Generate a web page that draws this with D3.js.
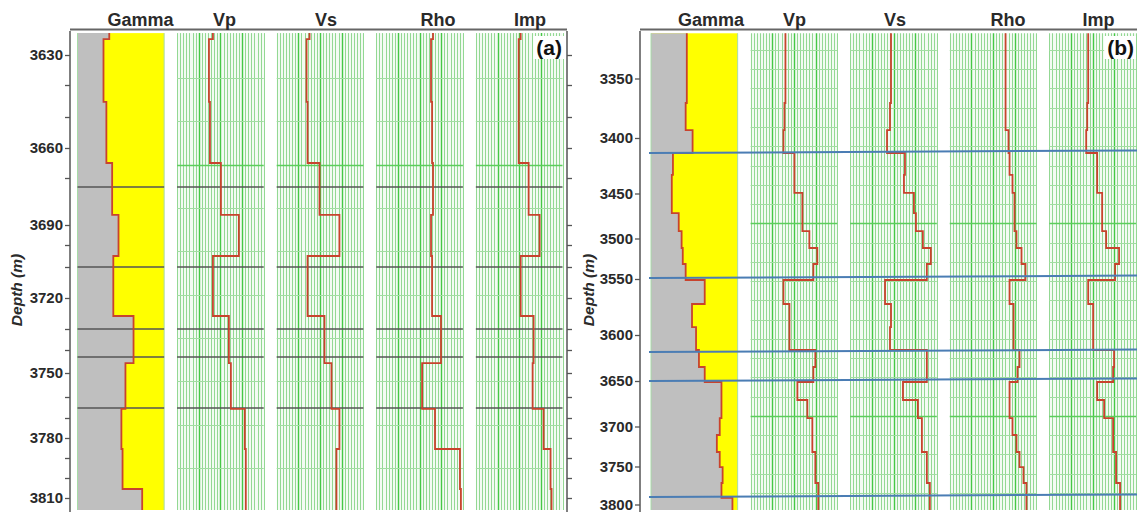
<!DOCTYPE html>
<html><head><meta charset="utf-8">
<script src="https://cdn.jsdelivr.net/npm/d3@7"></script>
<style>
html,body{margin:0;padding:0;background:#fff;}
svg{display:block;font-family:"Liberation Sans",Arial,sans-serif;}
</style></head><body>
<svg id="chart" width="1137" height="512"></svg>
<script>
// ================= DATA =================
const tracks = ["Gamma", "Vp", "Vs", "Rho", "Imp"];
const trackDomains = { Gamma: [0, 150], Vp: [2000, 6000], Vs: [1000, 4000], Rho: [2.0, 3.0], Imp: [5000, 20000] };

// ---- Panel (a) ----
const depthTicksA = [3630, 3660, 3690, 3720, 3750, 3780, 3810];
const minorTicksA = [3640, 3650, 3670, 3700, 3710, 3730, 3740, 3760, 3770, 3790, 3800];
const layerTopsA = [3622.7, 3624.7, 3645.3, 3665, 3685.7, 3705, 3725.8, 3745.7, 3765.7, 3785.5, 3805.5];
const baseA = 3816;
const gammaA = [55, 45, 50, 60, 71, 62, 97, 83, 76, 78, 112];
const vpA = [3655, 3471, 3517, 4023, 4851, 3655, 4391, 4483, 5126, 5172, 5172];
const vsA = [2138, 2034, 2069, 2483, 3172, 2069, 2655, 2897, 3172, 3069, 3069];
const rhoA = [2.655, 2.632, 2.644, 2.655, 2.632, 2.644, 2.747, 2.529, 2.678, 2.966, 2.977];
const impA = [12759, 12414, 12414, 14138, 16034, 12759, 15000, 14828, 16724, 17931, 18103];
const markersA = [3673.8, 3710, 3730, 3743, 3765.2];

// ---- Panel (b) ----
const depthTicksB = [3350, 3400, 3450, 3500, 3550, 3600, 3650, 3700, 3750, 3800];
const minorTicksB = [];
const layerTopsB = [3312, 3370.6, 3393.3, 3413.5, 3433.3, 3449.5, 3471.7, 3491.7, 3511.7, 3531.5, 3550.9, 3572.3,
                    3592.9, 3616.3, 3634.8, 3651.1, 3670.9, 3690.7, 3710.6, 3731.9, 3750.7, 3771.7, 3791.4];
const baseB = 3807.2;
const gammaB = [62, 60, 72, 38, 36, 36, 48, 53, 55, 60, 93, 71, 78, 83, 93, 122, 122, 119, 114, 119, 124, 122, 141];
const vpB = [3609, 3563, 3517, 4023, 4023, 4391, 4391, 4713, 5080, 4897, 3517, 3793, 3793, 4989, 4897, 4161,
             4621, 4851, 4851, 4989, 4989, 5126, 5126];
const vsB = [2414, 2379, 2276, 2897, 2862, 3207, 3276, 3517, 3793, 3655, 2207, 2414, 2379, 3655, 3655, 2828,
             3345, 3483, 3483, 3655, 3655, 3759, 3759];
const rhoB = [2.644, 2.644, 2.678, 2.690, 2.724, 2.747, 2.747, 2.770, 2.828, 2.874, 2.690, 2.736, 2.736, 2.805,
              2.782, 2.690, 2.690, 2.724, 2.770, 2.805, 2.851, 2.885, 2.885];
const impB = [11724, 11552, 11379, 13276, 13276, 14138, 14138, 14828, 17069, 16379, 11724, 12586, 12586, 16207,
              16034, 13276, 14483, 16034, 16034, 16552, 16552, 17241, 17241];
const horizonsB = [3413.5, 3548.8, 3618.5, 3650, 3790.1];

// ================= LAYOUT / STYLE =================
const layout = {
  a: { axisX: 70, rightAxisX: 567, header: [70, 567], trackRange: [77.5, 562.5],
       knotPx: [55, 85, 117, 148, 178, 225, 245, 267, 298, 329, 350, 373, 397, 418, 438, 458, 478, 498],
       labelDx: [19.7, 4.1, 6, 18.4, 10.8], tag: "(a)", tagX: 562, depthLabelX: 17,
       grid: { start: 34.7, step: 43.33, brightMod: 3 } },
  b: { axisX: 640, rightAxisX: null, header: [640, 1137], trackRange: [651, 1136],
       knotPx: [78.5, 138, 193.5, 238.5, 279, 335, 381, 426.5, 466.5, 504.5],
       labelDx: [16.7, 0.6, 1.5, 14.9, 5.8], tag: "(b)", tagX: 1134, depthLabelX: 589,
       grid: { start: 30.7, step: 19.26, brightMod: 0 }, horizonX: [649, 1137], tilt: 2.5 }
};
const C = {
  axis: "#555", text: "#2a2a2a", header: "#666",
  gray: "#bfbfbf", yellow: "#ffff00", curve: "#c8432d", trackBg: "#f3fbf3",
  minorV: "#93d893", majorV: "#45c845", minorH: "#a2dda2", majorH: "#5ccd5c",
  marker: "#555", horizon: "#4b7db4", border: "#a8dca8"
};

const panels = [
  { key: "a", majors: depthTicksA, minors: minorTicksA, tops: layerTopsA, base: baseA,
    logs: { Gamma: gammaA, Vp: vpA, Vs: vsA, Rho: rhoA, Imp: impA }, markers: markersA, horizons: [] },
  { key: "b", majors: depthTicksB, minors: minorTicksB, tops: layerTopsB, base: baseB,
    logs: { Gamma: gammaB, Vp: vpB, Vs: vsB, Rho: rhoB, Imp: impB }, markers: [], horizons: horizonsB }
];

const svg = d3.select("#chart");

panels.forEach(P => {
  const L = layout[P.key];
  const knots = [...P.majors, ...P.minors].sort((a, b) => a - b);
  const y = d3.scaleLinear().domain(knots).range(L.knotPx);
  const xb = d3.scaleBand().domain(tracks).range(L.trackRange).paddingInner(0.13).paddingOuter(0);
  const bw = xb.bandwidth();
  const g = svg.append("g");
  const yTop = y(P.tops[0]), yBot = y(P.base);

  // header line & labels
  g.append("line").attr("x1", L.header[0]).attr("x2", L.header[1]).attr("y1", 29.5).attr("y2", 29.5)
    .attr("stroke", C.header).attr("stroke-width", 2);
  g.selectAll("text.hdr").data(tracks).join("text").attr("class", "hdr")
    .attr("x", (t, i) => xb(t) + bw / 2 + L.labelDx[i]).attr("y", 26)
    .attr("text-anchor", "middle").attr("font-size", 18).attr("font-weight", "bold")
    .attr("fill", C.text).text(t => t);

  tracks.forEach(t => {
    const x0 = xb(t), x1 = x0 + bw;
    const xs = d3.scaleLinear().domain(trackDomains[t]).range([x0, x1]);
    const vals = P.logs[t];
    const pts = [];
    P.tops.forEach((top, i) => {
      const bot = i < P.tops.length - 1 ? P.tops[i + 1] : P.base;
      pts.push([vals[i], top], [vals[i], bot]);
    });
    const tg = g.append("g");
    if (t === "Gamma") {
      tg.append("rect").attr("x", x0).attr("y", yTop).attr("width", bw).attr("height", yBot - yTop).attr("fill", C.yellow);
      tg.append("path").datum(pts).attr("fill", C.gray)
        .attr("d", d3.area().y(d => y(d[1])).x0(x0).x1(d => xs(d[0])));
      [x0, x1].forEach(xx => tg.append("line").attr("x1", xx).attr("x2", xx).attr("y1", yTop).attr("y2", yBot)
        .attr("stroke", C.border).attr("stroke-width", 1));
    } else {
      tg.append("rect").attr("x", x0).attr("y", yTop).attr("width", bw).attr("height", yBot - yTop).attr("fill", C.trackBg);
      const d0 = trackDomains[t][0], d1 = trackDomains[t][1];
      const vlines = d3.range(29).map(i => ({ v: d0 + i * (d1 - d0) / 28, major: i % 7 === 0 && i > 0 && i < 28 }));
      tg.selectAll("line.v").data(vlines).join("line").attr("class", "v")
        .attr("x1", d => Math.round(xs(d.v)) + 0.5).attr("x2", d => Math.round(xs(d.v)) + 0.5)
        .attr("y1", yTop).attr("y2", yBot)
        .attr("stroke", d => d.major ? C.majorV : C.minorV).attr("stroke-width", d => d.major ? 1.4 : 1);
      const hl = [];
      for (let k = 1; L.grid.start + k * L.grid.step < yBot - 1; k++) hl.push({ y: L.grid.start + k * L.grid.step, major: k % 10 === L.grid.brightMod });
      tg.selectAll("line.h").data(hl).join("line").attr("class", "h")
        .attr("x1", x0).attr("x2", x1).attr("y1", d => Math.round(d.y) + 0.5).attr("y2", d => Math.round(d.y) + 0.5)
        .attr("stroke", d => d.major ? C.majorH : C.minorH).attr("stroke-width", d => d.major ? 1.4 : 1);
    }
    // markers (panel a)
    tg.selectAll("line.m").data(P.markers).join("line").attr("class", "m")
      .attr("x1", x0).attr("x2", x1).attr("y1", d => y(d)).attr("y2", d => y(d))
      .attr("stroke", C.marker).attr("stroke-width", 1.5);
    tg.append("path").datum(pts).attr("fill", "none").attr("stroke", C.curve).attr("stroke-width", 1.8)
      .attr("d", d3.line().x(d => xs(d[0])).y(d => y(d[1])));
  });

  // horizons (panel b)
  if (P.horizons.length) {
    g.selectAll("line.hz").data(P.horizons).join("line").attr("class", "hz")
      .attr("x1", L.horizonX[0]).attr("x2", L.horizonX[1])
      .attr("y1", d => y(d)).attr("y2", d => y(d) - L.tilt)
      .attr("stroke", C.horizon).attr("stroke-width", 2);
  }

  // left axis
  g.append("line").attr("x1", L.axisX).attr("x2", L.axisX).attr("y1", 31).attr("y2", 512)
    .attr("stroke", C.axis).attr("stroke-width", 1.5);
  const ax = g.append("g").attr("transform", `translate(${L.axisX},0)`)
    .call(d3.axisLeft(y).tickValues(P.majors).tickSize(5).tickPadding(2).tickFormat(d3.format("d")));
  ax.select(".domain").remove();
  ax.selectAll("line").attr("stroke", C.axis).attr("stroke-width", 1.3);
  ax.selectAll("text").attr("font-size", 15).attr("font-weight", "bold").attr("fill", C.text)
    .attr("font-family", '"Liberation Sans",Arial,sans-serif');
  if (P.minors.length) {
    const axm = g.append("g").attr("transform", `translate(${L.axisX},0)`)
      .call(d3.axisLeft(y).tickValues(P.minors).tickSize(5).tickFormat(""));
    axm.select(".domain").remove();
    axm.selectAll("line").attr("stroke", C.axis).attr("stroke-width", 1.3);
  }
  // right axis
  if (L.rightAxisX !== null) {
    g.append("line").attr("x1", L.rightAxisX).attr("x2", L.rightAxisX).attr("y1", 31).attr("y2", 512)
      .attr("stroke", C.axis).attr("stroke-width", 1.5);
    const ar = g.append("g").attr("transform", `translate(${L.rightAxisX},0)`)
      .call(d3.axisRight(y).tickValues(knots).tickSize(5).tickFormat(""));
    ar.select(".domain").remove();
    ar.selectAll("line").attr("stroke", C.axis).attr("stroke-width", 1.3);
  }
  // depth label
  g.append("text").attr("transform", `translate(${L.depthLabelX},290) rotate(-90)`)
    .attr("text-anchor", "middle").attr("dy", "0.35em")
    .attr("font-size", 15.5).attr("font-weight", "bold").attr("font-style", "italic")
    .attr("fill", C.text).text("Depth (m)");
  // tag
  const tag = g.append("text").attr("x", L.tagX).attr("y", 55).attr("text-anchor", "end")
    .attr("font-size", 21).attr("font-weight", "bold").attr("fill", "#111").text(L.tag);
  const bb = tag.node().getBBox();
  g.insert("rect", () => tag.node()).attr("x", bb.x - 3).attr("y", bb.y).attr("width", bb.width + 5)
    .attr("height", bb.height).attr("fill", "#fff");
});
</script>
</body></html>
